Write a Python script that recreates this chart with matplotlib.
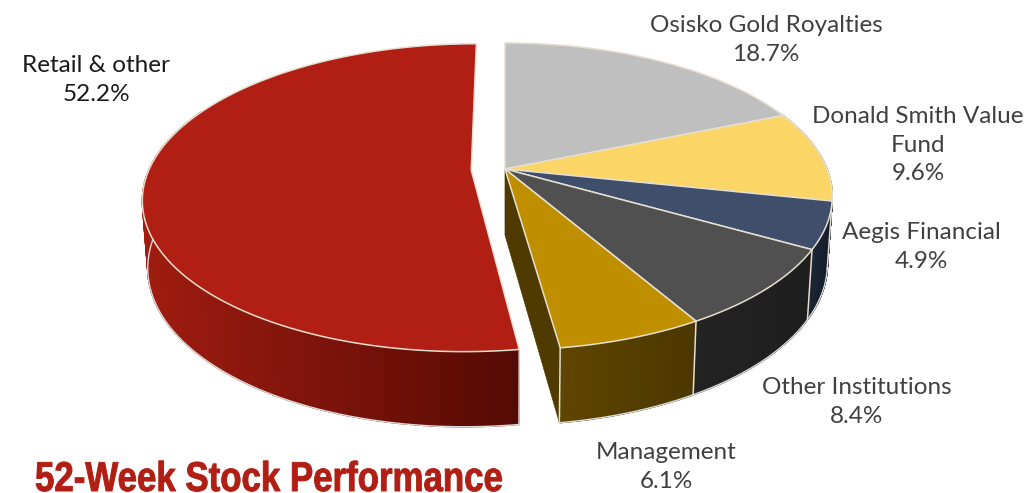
import matplotlib
matplotlib.use('Agg')
import matplotlib.pyplot as plt
import numpy as np
from matplotlib.colors import to_rgb
from matplotlib.patches import Polygon
from matplotlib.patheffects import AbstractPathEffect
from matplotlib.transforms import Affine2D

# Data, clockwise from 12 o'clock
labels = ['Osisko Gold Royalties', 'Donald Smith Value\nFund', 'Aegis Financial',
          'Other Institutions', 'Management', 'Retail & other']
shares = [18.7, 9.6, 4.9, 8.4, 6.1, 52.2]
exploded = [0, 0, 0, 0, 0, 0.105]
title = '52-Week Stock Performance'

# Colours: top face, side at the left end, side at the right end
top_colors = ['#bfbfbf', '#fbd565', '#3f4e6b', '#505050', '#bf8f00', '#b01e14']
side_left = ['#8a8a8a', '#a88a30', '#1b2637', '#232323', '#5f4500', '#a01c10']
side_right = ['#8a8a8a', '#a88a30', '#141c2a', '#1e1e1e', '#4c3700', '#560a04']
cut_color = '#4f3a00'
edge_color = '#e6dfcf'
label_colors = ['#404040'] * 5 + ['#1a1a1a']
label_pos = [(766, 40), (918, 145), (921, 247), (857, 402), (666, 467), (96, 80)]

# Projection of the pie plane, in pixels
cx, cy = 505, 169
sx, sy = 322, 148.6
persp = 0.179
depth = 66


def project(x, y):
    w = 1 + persp * y
    return cx + sx * x / w, cy - sy * y / w


def drop(x, y):
    # same point on the underside of the pie
    w = 1 + persp * y
    px, py = project(x, y)
    return cx + (px - cx) * 0.985, py + depth / w ** 0.65


class Squeeze(AbstractPathEffect):
    # narrows the title, the condensed face is not installed
    def __init__(self, factor, x0, stroke):
        super().__init__()
        self.factor = factor
        self.x0 = x0
        self.stroke = stroke

    def draw_path(self, renderer, gc, tpath, affine, rgbFace=None):
        squeeze = Affine2D().translate(-self.x0, 0).scale(self.factor, 1).translate(self.x0, 0)
        gc0 = renderer.new_gc()
        gc0.copy_properties(gc)
        gc0.set_linewidth(self.stroke)
        gc0.set_foreground(rgbFace)
        renderer.draw_path(gc0, tpath, affine + squeeze, rgbFace)
        gc0.restore()


fig, ax = plt.subplots(figsize=(10.28, 4.93), dpi=100, facecolor='white')
ax.set_position([0, 0, 1, 1])
ax.set_xlim(0, 1028)
ax.set_ylim(493, 0)
ax.axis('off')

ends = np.cumsum(shares) / np.sum(shares) * 2 * np.pi
starts = np.r_[0, ends[:-1]]

# Exploded slice goes first, the rest of the pie sits in front of its gap
order = [5, 0, 1, 2, 3, 4]
for i in order:
    mid = (starts[i] + ends[i]) / 2
    ox, oy = exploded[i] * np.sin(mid), exploded[i] * np.cos(mid)
    t = np.linspace(starts[i], ends[i], 160)
    xs, ys = ox + np.sin(t), oy + np.cos(t)
    top = np.array([project(a, b) for a, b in zip(xs, ys)])
    low = np.array([drop(a, b) for a, b in zip(xs, ys)])
    apex = project(ox, oy)
    apex_low = drop(ox, oy)

    # outer wall, only the part that faces the viewer
    x0, x1 = top[:, 0].min(), top[:, 0].max()
    c0, c1 = np.array(to_rgb(side_left[i])), np.array(to_rgb(side_right[i]))
    for k in range(len(t) - 1):
        if ys[k] > 0.4 and ys[k + 1] > 0.4:
            continue
        f = (top[k, 0] - x0) / max(x1 - x0, 1)
        col = c0 + (c1 - c0) * f
        ax.add_patch(Polygon([top[k], top[k + 1], low[k + 1], low[k]], closed=True,
                             facecolor=col, edgecolor=col, linewidth=1.0, zorder=2 + i))

    # wall lines between slices
    if ys[0] < 0 and i != 5:
        ax.plot([top[0, 0], low[0, 0]], [top[0, 1], low[0, 1]], color=edge_color, lw=1.1, zorder=3 + i)
    ax.plot(low[:, 0][ys < 0.4], low[:, 1][ys < 0.4], color='#dcdcdc', lw=1.0, zorder=3 + i)

    # cut face seen through the gap
    if i == 4:
        ax.add_patch(Polygon([apex, top[-1], low[-1], apex_low], closed=True,
                             facecolor=cut_color, edgecolor=cut_color, linewidth=0.5, zorder=2 + i))
        ax.plot([top[-1, 0], low[-1, 0]], [top[-1, 1], low[-1, 1]], color=edge_color, lw=1.1, zorder=3 + i)
    if i == 5:
        ax.plot([top[0, 0], low[0, 0]], [top[0, 1], low[0, 1]], color='#e0d0d0', lw=1.1, zorder=3 + i)

for i in order:
    mid = (starts[i] + ends[i]) / 2
    ox, oy = exploded[i] * np.sin(mid), exploded[i] * np.cos(mid)
    t = np.linspace(starts[i], ends[i], 160)
    top = np.array([project(ox + np.sin(a), oy + np.cos(a)) for a in t])
    poly = np.vstack([project(ox, oy), top])
    ax.add_patch(Polygon(poly, closed=True, facecolor=top_colors[i], edgecolor=edge_color,
                         linewidth=1.1, joinstyle='round', zorder=12))

# Labels
for name, val, pos, col in zip(labels, shares, label_pos, label_colors):
    ax.text(pos[0], pos[1], f'{name}\n{val:.1f}%', family='Lato', fontsize=17.5, color=col,
            ha='center', va='center', linespacing=1.46, zorder=20)

ax.text(35, 491, title, family='Liberation Sans', fontsize=30, fontweight='bold', color='#b01e14',
        ha='left', va='baseline', zorder=20, path_effects=[Squeeze(0.836, 35, 0.7)])

plt.savefig('out.png', dpi=100, facecolor='white')
plt.close()
